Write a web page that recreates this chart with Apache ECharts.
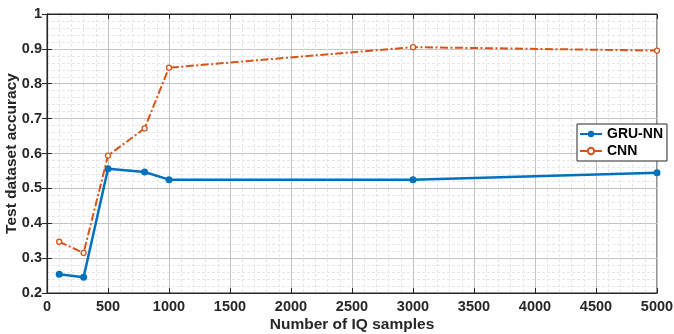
<!DOCTYPE html>
<html><head><meta charset="utf-8">
<script src="https://cdn.jsdelivr.net/npm/echarts@6/dist/echarts.min.js"></script>
<style>html,body{margin:0;padding:0;background:#fff}#c{width:674px;height:334px}</style>
</head><body><div id="c"></div>
<script>
const samples = [100, 300, 500, 800, 1000, 3000, 5000];
const gruNN = [0.254, 0.245, 0.556, 0.547, 0.525, 0.525, 0.545];
const cnn = [0.347, 0.315, 0.594, 0.672, 0.846, 0.905, 0.895];
const xTitle = 'Number of IQ samples';
const yTitle = 'Test dataset accuracy';
const FONT = '"Liberation Sans", Arial, sans-serif';
const dark = '#262626';
const chart = echarts.init(document.getElementById('c'));
const pair = (xs, ys) => xs.map((x, i) => [x, ys[i]]);
const majorGrid = {show: true, lineStyle: {color: '#c4c4c4', width: 1}};
const minorGrid = {show: true, lineStyle: {color: '#e6e6e6', width: 1, type: [3, 2]}};
chart.setOption({
  animation: false,
  grid: {left: 47, right: 17, top: 14, bottom: 41, outerBoundsMode: 'none', containLabel: false,
    show: true, borderColor: dark, borderWidth: 1, backgroundColor: '#fff'},
  xAxis: [{
    type: 'value', min: 0, max: 5000, interval: 500,
    name: xTitle, nameLocation: 'middle', nameGap: 24, nameMoveOverlap: false,
    nameTextStyle: {fontFamily: FONT, fontWeight: 'bold', fontSize: 15.5, color: dark},
    axisLine: {show: true, onZero: false, lineStyle: {color: dark, width: 1.2}},
    axisTick: {show: true, inside: true, length: 5, lineStyle: {color: dark}},
    axisLabel: {fontFamily: FONT, fontWeight: 'bold', fontSize: 14.5, color: dark, margin: 6,
      formatter: v => String(v)},
    splitLine: majorGrid, minorTick: {show: false, splitNumber: 5}, minorSplitLine: minorGrid
  }, {
    type: 'value', position: 'top', min: 0, max: 5000, interval: 500,
    axisLine: {show: true, lineStyle: {color: dark}}, axisTick: {show: true, inside: true, length: 5, lineStyle: {color: dark}},
    axisLabel: {show: false}, splitLine: {show: false}
  }],
  yAxis: [{
    type: 'value', min: 0.2, max: 1, interval: 0.1,
    name: yTitle, nameLocation: 'middle', nameGap: 27, nameMoveOverlap: false,
    nameTextStyle: {fontFamily: FONT, fontWeight: 'bold', fontSize: 15.5, color: dark},
    axisLine: {show: true, onZero: false, lineStyle: {color: dark, width: 1.2}},
    axisTick: {show: true, inside: true, length: 5, lineStyle: {color: dark}},
    axisLabel: {fontFamily: FONT, fontWeight: 'bold', fontSize: 14.5, color: dark, margin: 5,
      formatter: v => String(+v.toFixed(1))},
    splitLine: majorGrid, minorTick: {show: false, splitNumber: 5}, minorSplitLine: minorGrid
  }, {
    type: 'value', position: 'right', min: 0.2, max: 1, interval: 0.1,
    axisLine: {show: true, lineStyle: {color: dark}}, axisTick: {show: true, inside: true, length: 5, lineStyle: {color: dark}},
    axisLabel: {show: false}, splitLine: {show: false}
  }],
  legend: {
    left: 577, top: 124, orient: 'vertical', itemGap: 3, itemWidth: 22, itemHeight: 8,
    backgroundColor: '#fff', borderColor: dark, borderWidth: 1, borderRadius: 0, padding: [3, 4, 3, 2],
    textStyle: {fontFamily: FONT, fontWeight: 'bold', fontSize: 14, color: '#000'},
    data: ['GRU-NN', 'CNN']
  },
  series: [{
    name: 'GRU-NN', type: 'line', data: pair(samples, gruNN), color: '#0072BD',
    symbol: 'circle', symbolSize: 7, lineStyle: {width: 2.5, color: '#0072BD'},
    itemStyle: {color: '#0072BD'}, z: 3
  }, {
    name: 'CNN', type: 'line', data: pair(samples, cnn), color: '#D95319',
    symbol: 'circle', symbolSize: 5, lineStyle: {width: 2, color: '#D95319', type: [8, 2.5, 2, 2.5]},
    itemStyle: {color: '#fff', borderColor: '#D95319', borderWidth: 1.3}, z: 4
  }]
});
</script></body></html>
